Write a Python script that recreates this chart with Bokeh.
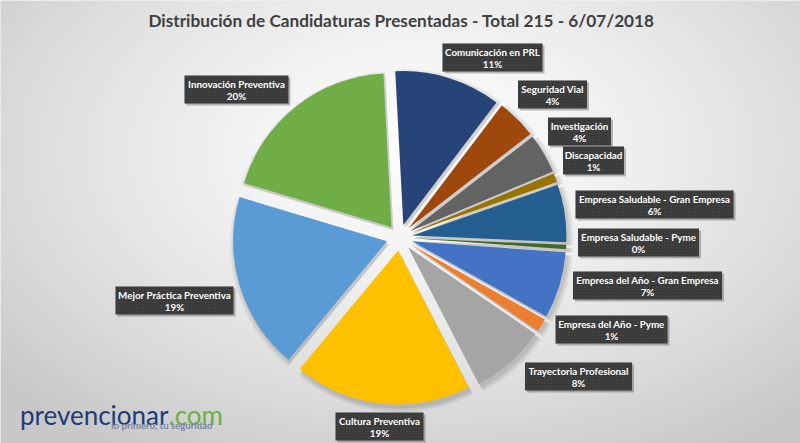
import numpy as np
from bokeh.plotting import figure
from bokeh.models import Range1d, ColumnDataSource
from bokeh.core.properties import value
from bokeh.embed import file_html
from bokeh.resources import INLINE

# ---------------- data ----------------
title_text = "Distribución de Candidaturas Presentadas - Total 215 - 6/07/2018"
categories = [
    "Comunicación en PRL", "Seguridad Vial", "Investigación", "Discapacidad",
    "Empresa Saludable - Gran Empresa", "Empresa Saludable - Pyme",
    "Empresa del Año - Gran Empresa", "Empresa del Año - Pyme",
    "Trayectoria Profesional", "Cultura Preventiva",
    "Mejor Práctica Preventiva", "Innovación Preventiva",
]
counts = [24, 9, 9, 2, 13, 1, 15, 3, 17, 40, 40, 42]
colors = [
    "#264478", "#9E480E", "#636363", "#997300",
    "#255E91", "#43682B", "#4472C4", "#ED7D31",
    "#A5A5A5", "#FFC000", "#5B9BD5", "#70AD47",
]

# ---------------- layout (reference pixel coordinates) ----------------
label_cx = [492, 552, 579, 593, 654, 638, 647, 611, 578, 379, 174, 236]
label_cy = [57, 94, 131, 160, 204, 242, 285, 329, 376, 426, 300, 89]
label_w = [100, 69, 63, 61, 158, 121, 149, 112, 107, 88, 118, 104]
W_PX, H_PX = 800, 443
CX, CY = 399, 237
R, D, START = 154, 13, -3.0

def fy(ypx):
    return H_PX - np.asarray(ypx, dtype=float)

total = float(sum(counts))
cnt = np.array(counts, dtype=float)
ends = np.cumsum(cnt) / total * 360.0 + START
starts = ends - cnt / total * 360.0
mids = (starts + ends) / 2.0
pcts = [f"{int(round(100 * c / total))}%" for c in counts]

wx = CX + D * np.sin(np.radians(mids))
wy = fy(CY) + D * np.cos(np.radians(mids))
src = ColumnDataSource(dict(
    x=wx, y=wy, xs=wx + 2, ys=wy - 3,
    sa=np.radians(90.0 - ends), ea=np.radians(90.0 - starts),
    color=colors, name=categories,
))

p = figure(width=W_PX, height=H_PX, x_range=Range1d(0, W_PX), y_range=Range1d(0, H_PX),
           output_backend="svg", toolbar_location=None,
           x_axis_location=None, y_axis_location=None, min_border=0,
           background_fill_color="#e6e6e6", border_fill_color="#e6e6e6",
           outline_line_color=None)
p.grid.visible = False

# background radial gradient
GW, GH = 200, 111
gx = (np.arange(GW) + 0.5) * 800.0 / GW
gy_data = (np.arange(GH) + 0.5) * 443.0 / GH
gy_px = H_PX - gy_data
XX, YY = np.meshgrid(gx, gy_px)
dist = np.sqrt(((XX - 420) / 520.0) ** 2 + ((YY - 150) / 330.0) ** 2)
val = np.clip(253 - 48 * dist ** 1.4, 200, 255).astype(np.uint8)
img = np.empty((GH, GW), dtype=np.uint32)
view = img.view(dtype=np.uint8).reshape((GH, GW, 4))
view[:, :, 0] = val
view[:, :, 1] = val
view[:, :, 2] = val
view[:, :, 3] = 255
p.image_rgba(image=[img], x=0, y=0, dw=800, dh=443)

# soft slice shadows
for k, a in [(5, 0.05), (3, 0.06), (1, 0.07)]:
    p.wedge(x="xs", y="ys", radius=R + k, start_angle="sa", end_angle="ea",
            source=src, fill_color="black", fill_alpha=a, line_color=None)

p.wedge(x="x", y="y", radius=R, start_angle="sa", end_angle="ea", source=src,
        fill_color="color", line_color=None)

# labels
lsrc = ColumnDataSource(dict(
    x=label_cx, y=fy(label_cy), w=label_w,
    sx=np.array(label_cx) + 2, sy=fy(label_cy) - 2,
    name=categories, pct=pcts,
    ny=fy(np.array(label_cy) - 5.5), py=fy(np.array(label_cy) + 6.5),
))
p.rect(x="sx", y="sy", width="w", height=28, source=lsrc,
       fill_color="black", fill_alpha=0.25, line_color=None)
p.rect(x="x", y="y", width="w", height=28, source=lsrc,
       fill_color="#393939", line_color=None,
       hatch_pattern="dot", hatch_color="#5a5a5a", hatch_scale=3, hatch_alpha=0.6)
p.text(x="x", y="ny", text="name", source=lsrc, text_align="center",
       text_baseline="middle", text_color="white", text_font=value("Lato"),
       text_font_style="bold", text_font_size="9.8px")
p.text(x="x", y="py", text="pct", source=lsrc, text_align="center",
       text_baseline="middle", text_color="white", text_font=value("Lato"),
       text_font_style="bold", text_font_size="9.8px")

# title
p.text(x=[401], y=fy([20]), text=[title_text], text_align="center",
       text_baseline="middle", text_color="#404040", text_font=value("Lato"),
       text_font_style="bold", text_font_size="17.2px")

# logo
p.text(x=[168], y=fy([414]), text=["prevencionar"], text_align="right",
       text_baseline="alphabetic", text_color="#1d3c78", text_font=value("Lato"),
       text_font_size="26px")
p.text(x=[168], y=fy([414]), text=[".com"], text_align="left",
       text_baseline="alphabetic", text_color="#6cb043", text_font=value("Lato"),
       text_font_size="26px")
p.text(x=[212], y=fy([424.5]), text=["lo primero, tu seguridad"], text_align="right",
       text_baseline="middle", text_color="#7585a0", text_font=value("Lato"),
       text_font_style="bold", text_font_size="9.6px")

html = file_html(p, INLINE)
html = html.replace("<body>", '<body style="background:#dcdcdc">', 1)
open("out.html", "w").write(html)
